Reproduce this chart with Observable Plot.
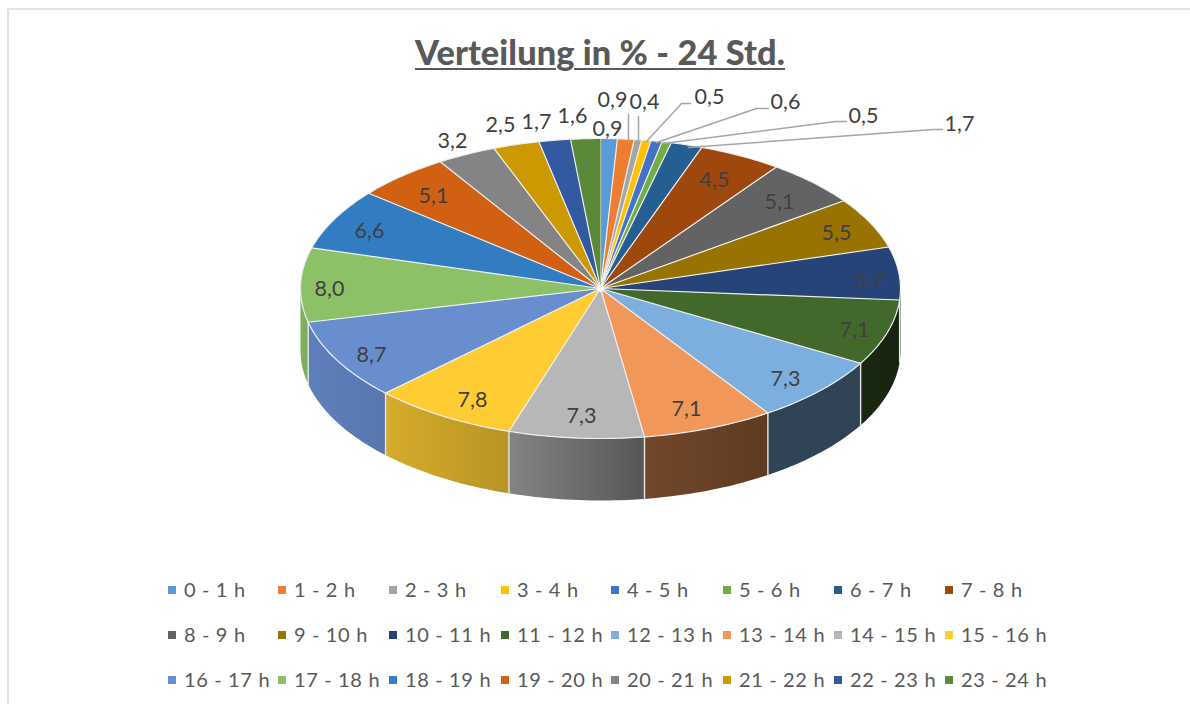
<!DOCTYPE html>
<html>
<head>
<meta charset="utf-8">
<script src="https://cdn.jsdelivr.net/npm/d3@7"></script>
<script src="https://cdn.jsdelivr.net/npm/@observablehq/plot@0.6"></script>
<style>
html,body{margin:0;padding:0;background:#fff;}
#page{position:relative;width:1190px;height:704px;overflow:hidden;font-family:Lato,sans-serif;color:#595959;}
#frame{position:absolute;left:7px;top:8px;right:-4px;bottom:-4px;border:2px solid #e2e2e2;}
#title{position:relative;height:80px;padding-left:10px;box-sizing:border-box;text-align:center;font-weight:900;font-size:34.3px;letter-spacing:.1px;line-height:104px;text-decoration:underline;text-decoration-thickness:2px;text-underline-offset:3px;}
#chart{position:relative;height:460px;}
#chart svg{display:block;}
#legend{position:absolute;left:0;top:567px;width:1190px;}
.item{position:absolute;top:0;height:44px;line-height:44px;font-size:20px;letter-spacing:.65px;white-space:nowrap;}
.sw{position:absolute;left:-4px;top:19px;width:8px;height:8px;}
.tx{position:absolute;left:12px;top:0;}
</style>
</head>
<body>
<div id="page">
<div id="frame"></div>
<div id="title">Verteilung in % - 24 Std.</div>
<div id="chart"></div>
<div id="legend"></div>
</div>
<script>
const hours = ["0 - 1 h","1 - 2 h","2 - 3 h","3 - 4 h","4 - 5 h","5 - 6 h","6 - 7 h","7 - 8 h","8 - 9 h","9 - 10 h","10 - 11 h","11 - 12 h","12 - 13 h","13 - 14 h","14 - 15 h","15 - 16 h","16 - 17 h","17 - 18 h","18 - 19 h","19 - 20 h","20 - 21 h","21 - 22 h","22 - 23 h","23 - 24 h"];
const shares = [0.9,0.9,0.4,0.5,0.6,0.5,1.7,4.5,5.1,5.5,5.7,7.1,7.3,7.1,7.3,7.8,8.7,8.0,6.6,5.1,3.2,2.5,1.7,1.6];
const colours = ["#5B9BD5","#ED7D31","#A5A5A5","#FFC000","#4472C4","#70AD47","#255E91","#9E480E","#636363","#997300","#264478","#43682B","#7CAFDD","#F1975A","#B7B7B7","#FFCD33","#698ED0","#8CC168","#327DC2","#D26012","#848484","#CC9A00","#335AA1","#5A8A39"];

// layout (label placement and geometry), in page pixels
const cx = 600, cyTop = 288, rx = 300, ry = 150, depth = 62, svgTop = 80;
const labelPx = [[607,129],[612,100],[644,102],[709,97],[785,102],[863,116],[959,124],[714,180],[779,202],[836,233],[869,281],[854,330],[785,379],[686,409],[581,416],[472,400],[371,355],[329,289],[369,231],[433,196],[452,141],[500,125],[536,122],[572,116]];
const leaders = [
  [1,[[628,114],[628,141]]],
  [2,[[638,116],[638,141]]],
  [3,[[690,103],[681,103],[646,141]]],
  [4,[[768,108],[756,108],[656,142]]],
  [5,[[846,121],[835,121],[663,143]]],
  [6,[[942,129],[933,129],[688,147]]]
];
const shadeX = [-1,-0.72,-0.3,0.15,0.56,0.87,1];
const shadeV = [0.9,0.84,0.72,0.47,0.39,0.38,0.34];

const ux = px => (px - cx) / rx;
const uy = py => (cyTop - py) / ry;
const depthU = depth / ry;
const shade = d3.scaleLinear().domain(shadeX).range(shadeV);
const total = d3.sum(shares);
const tau = 2 * Math.PI;
let acc = 0;
const arcs = shares.map((v, i) => { const a0 = acc / total * tau; acc += v; return {i, a0, a1: acc / total * tau}; });
const pt = a => [Math.sin(a), Math.cos(a)];
const dim = (hex, f) => { const b = d3.rgb(hex); return d3.rgb(b.r * f, b.g * f, b.b * f).formatHex(); };

// top face
const topPts = [];
for (const s of arcs) {
  topPts.push({k: s.i, x: 0, y: 0, c: colours[s.i]});
  const n = Math.max(4, Math.ceil((s.a1 - s.a0) / 0.015));
  for (let j = 0; j <= n; ++j) {
    const [x, y] = pt(s.a0 + (s.a1 - s.a0) * j / n);
    topPts.push({k: s.i, x, y, c: colours[s.i]});
  }
}
// side wall: one outline per slice, filled with a left-to-right gradient
const wallPts = [], seamPts = [], gradients = [];
for (const s of arcs) {
  const a0 = Math.max(s.a0, Math.PI / 2), a1 = Math.min(s.a1, 3 * Math.PI / 2);
  if (a1 <= a0) continue;
  const n = Math.max(2, Math.ceil((a1 - a0) / 0.02));
  const rim = d3.range(n + 1).map(j => pt(a0 + (a1 - a0) * j / n));
  const id = "wall" + s.i;
  const fillRef = `url(#${id})`;
  for (const [x, y] of rim) wallPts.push({k: s.i, x, y, c: fillRef});
  for (const [x, y] of rim.slice().reverse()) wallPts.push({k: s.i, x, y: y - depthU, c: fillRef});
  const xs = rim.map(p => p[0]);
  const xMin = d3.min(xs), xMax = d3.max(xs);
  gradients.push({id, left: dim(colours[s.i], shade(xMin)), right: dim(colours[s.i], shade(xMax))});
  if (s.a0 >= Math.PI / 2 && s.a0 <= 3 * Math.PI / 2) {
    const [x, y] = pt(s.a0);
    seamPts.push({k: s.i, x, y}, {k: s.i, x, y: y - depthU});
  }
}
const gradientDefs = () => {
  const defs = d3.create("svg:defs");
  for (const g of gradients) {
    const lg = defs.append("linearGradient").attr("id", g.id);
    lg.append("stop").attr("offset", "0%").attr("stop-color", g.left);
    lg.append("stop").attr("offset", "100%").attr("stop-color", g.right);
  }
  return defs.node();
};
const labels = shares.map((v, i) => ({x: ux(labelPx[i][0]), y: uy(labelPx[i][1]), t: v.toFixed(1).replace(".", ",")}));
const leaderPts = leaders.flatMap(([i, pts]) => pts.map(([a, b]) => ({k: i, x: ux(a), y: uy(b)})));

const H = 460;
const chart = Plot.plot({
  width: 1190, height: H,
  margin: 0, marginLeft: 0, marginRight: 0, marginTop: 0, marginBottom: 0,
  x: {type: "linear", domain: [-cx / rx, (1190 - cx) / rx], range: [0, 1190], axis: null},
  y: {type: "linear", domain: [(cyTop - svgTop - H) / ry, (cyTop - svgTop) / ry], range: [H, 0], axis: null},
  color: {type: "identity"},
  marks: [
    gradientDefs,
    Plot.line(wallPts, {x: "x", y: "y", z: "k", fill: "c", stroke: "none", curve: "linear"}),
    Plot.line(seamPts, {x: "x", y: "y", z: "k", stroke: "#e6e6e6", strokeWidth: 1.4}),
    Plot.line(topPts, {x: "x", y: "y", z: "k", fill: "c", stroke: "#f0f0f0", strokeWidth: 1.2, strokeLinejoin: "round", curve: "linear"}),
    Plot.dot([{x: 0, y: 0}], {x: "x", y: "y", r: 3.5, fill: "#fff"}),
    Plot.line(leaderPts, {x: "x", y: "y", z: "k", stroke: "#a6a6a6", strokeWidth: 1.5}),
    Plot.text(labels, {x: "x", y: "y", text: "t", fontSize: 21.5, fontFamily: "Lato", fill: "#404040"})
  ]
});
document.getElementById("chart").appendChild(chart);

// legend
const legendX = [172,282,393,505,615,727,838,949];
const legendY = [0,45,90];
const legend = document.getElementById("legend");
hours.forEach((h, i) => {
  const row = Math.floor(i / 8), col = i % 8;
  const el = document.createElement("div");
  el.className = "item";
  el.style.left = legendX[col] + "px";
  el.style.top = legendY[row] + "px";
  el.innerHTML = `<span class="sw" style="background:${colours[i]}"></span><span class="tx">${h}</span>`;
  legend.appendChild(el);
});
</script>
</body>
</html>
